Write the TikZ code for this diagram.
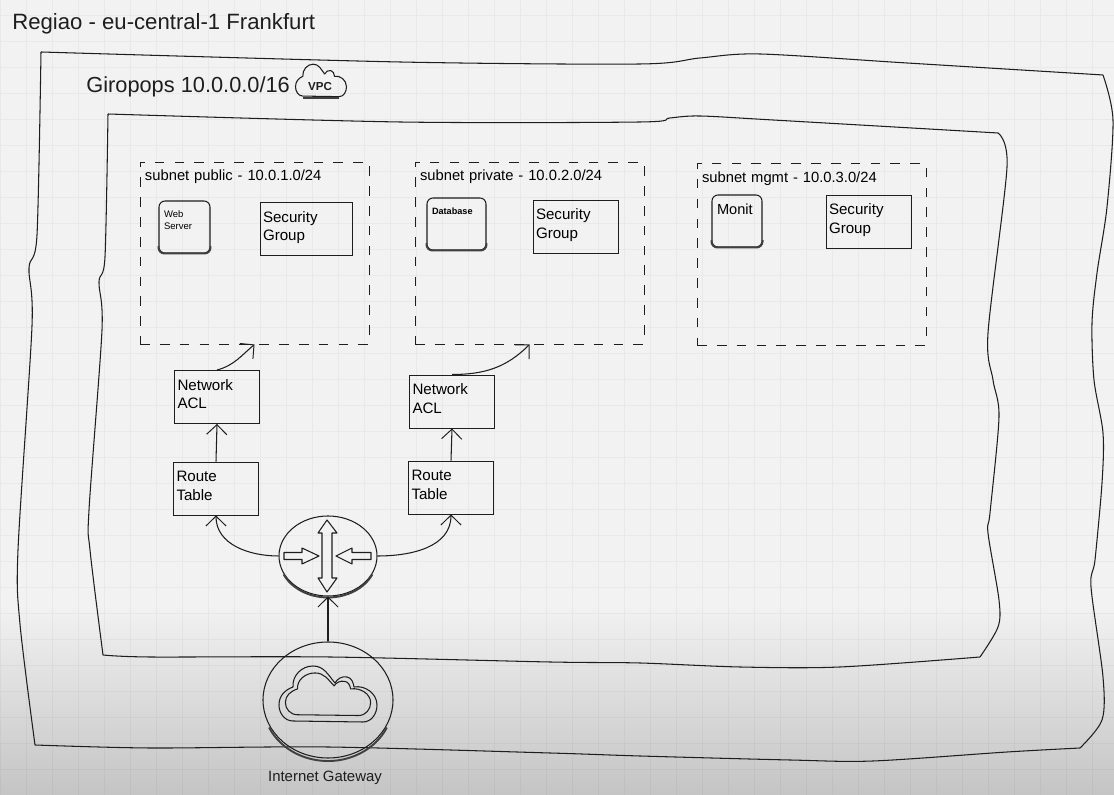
\documentclass[tikz,border=0pt]{standalone}
\usepackage{fontspec}
\setmainfont{Liberation Sans}
\usetikzlibrary{arrows.meta,shapes.geometric}
\definecolor{paper}{HTML}{F2F2F2}
\definecolor{ink}{HTML}{1E1E1E}
\newcommand{\cloudpath}{(-49,-10) to[out=90,in=200] (-35,8) to[out=95,in=180] (-15,29) to[out=0,in=130] (7,12) to[out=60,in=170] (19,18) to[out=-10,in=100] (26,8) to[out=10,in=90] (49,-10) to[out=-90,in=0] (35,-27) -- (-35,-26) to[out=180,in=-90] cycle}
\tikzset{
	wall/.style={draw=ink, line width=0.6pt, line join=round},
	subnetbox/.style={draw=ink, line width=0.55pt, dash pattern=on 5.5pt off 5.8pt, anchor=center, align=left,
		minimum width=45.8mm, text width=43.8mm, inner xsep=1mm, inner ysep=1mm, text height=2.8mm, text depth=31.6mm,
		font=\fontsize{8.4}{10}\selectfont},
	notebox/.style={draw=ink, line width=0.55pt, align=left, inner xsep=0.6mm, inner ysep=0.5mm,
		text width=15.8mm, text height=3.5mm, text depth=6.1mm, font=\fontsize{8.6}{10.3}\selectfont},
	devbox/.style={draw=ink, line width=0.6pt, rounded corners=1.2mm, align=left, inner xsep=1mm, inner ysep=0.5mm,
		text width=8.2mm, text height=2.9mm, text depth=6.5mm, font=\fontsize{5.4}{6.8}\selectfont},
	hub/.style={draw=ink, line width=0.6pt, ellipse, inner sep=0pt},
	botline/.style={draw=ink!85, line width=1.1pt},
	link/.style={draw=ink, line width=0.6pt, -{Straight Barb[length=5.6pt,width=11.5pt,line width=0.55pt]}},
	icon/.style={draw=ink, line width=0.6pt, line join=round}
}
\begin{document}
\begin{tikzpicture}[x=0.2mm,y=0.2mm]
	\useasboundingbox (0,0) rectangle (1114,795);
	% Fond
	\fill[paper] (0,0) rectangle (1114,795);
	\shade[top color=paper, bottom color=black!23] (0,0) rectangle (1114,190);
	\draw[black, opacity=0.035, line width=0.5pt] (0,0) grid[xstep=26,ystep=26] (1114,795);
	% Contours
	\draw[wall] plot[smooth,tension=0.5] coordinates {(41,743) (400,733) (640,731) (700,737) (760,741) (907,732) (1103,720)};
	\draw[wall] plot[smooth,tension=0.5] coordinates {(1103,720) (1113,675) (1107,588) (1097,522) (1092,472) (1094,415) (1103,362) (1102,312) (1095,235) (1091,208) (1103,118) (1102,75) (1080,47)};
	\draw[wall] plot[smooth,tension=0.5] coordinates {(1080,47) (1007,43) (873,34) (790,35) (640,39) (550,42) (328,48) (150,47) (35,50)};
	\draw[wall] plot[smooth,tension=0.5] coordinates {(35,50) (20,171) (18,245) (32,469) (29,527) (37,560) (41,743)};
	\draw[wall] plot[smooth,tension=0.5] coordinates {(108,681) (400,673) (640,673) (670,677) (700,679) (773,675) (998,662)};
	\draw[wall] plot[smooth,tension=0.5] coordinates {(998,662) (1007,628) (988,462) (993,415) (999,378) (990,282) (988,262) (999,195) (998,168) (980,138)};
	\draw[wall] plot[smooth,tension=0.5] coordinates {(980,138) (840,128) (740,128) (640,132) (550,133) (330,138) (150,138) (103,140)};
	\draw[wall] plot[smooth,tension=0.5] coordinates {(103,140) (90,245) (89,285) (102,465) (99,513) (105,538) (108,681)};
	% Titres
	\node[anchor=base west, inner sep=0pt, text=ink, font=\fontsize{12.6}{14}\selectfont] (regiao) at (12,765) {Regiao - eu-central-1 Frankfurt};
	\node[anchor=base west, inner sep=0pt, text=ink, font=\fontsize{12.4}{14}\selectfont] (giropops) at (86,702) {Giropops 10.0.0.0/16};
	\node[inner sep=0pt, text=ink, font=\bfseries\fontsize{6.6}{8}\selectfont] (vpc) at (320,708) {VPC};
	\draw[icon, shift={(321,714)}, xscale=0.52, yscale=0.58] \cloudpath;
	\draw[botline] (303,697) -- (339,697);
	% Subnets
	\node[subnetbox] (subpub) at (254.5,542) {subnet public - 10.0.1.0/24};
	\node[subnetbox] (subpriv) at (529.5,542) {subnet private - 10.0.2.0/24};
	\node[subnetbox] (submgmt) at (811.5,540.5) {subnet mgmt - 10.0.3.0/24};
	% Serveurs
	\node[devbox] (websrv) at (184.5,568) {Web\\Server};
	\node[devbox, text width=9.8mm, font=\bfseries\fontsize{5.2}{6.8}\selectfont] (dbase) at (456.5,571) {Database};
	\node[devbox, text width=8mm, text height=3.5mm, text depth=5.9mm, font=\fontsize{8.3}{10}\selectfont] (monit) at (737,574) {Monit};
	\node[notebox, text width=17.2mm] (sgpub) at (306,566) {Security\\Group};
	\node[notebox] (sgpriv) at (575.5,568.5) {Security\\Group};
	\node[notebox] (sgmgmt) at (868.5,573.5) {Security\\Group};
	\foreach \n in {websrv,dbase,monit}
		\draw[botline, rounded corners=1.2mm] ([yshift=1.5mm]\n.south west) |- (\n.south) -| ([yshift=1.5mm]\n.south east);
	% ACL et tables
	\node[notebox] (aclpub) at (217,398) {Network\\ACL};
	\node[notebox] (aclpriv) at (452,393.5) {Network\\ACL};
	\node[notebox] (rtpub) at (216,306.5) {Route\\Table};
	\node[notebox] (rtpriv) at (451,307.5) {Route\\Table};
	% Routeur et gateway
	\node[hub, minimum width=19.6mm, minimum height=16mm] (router) at (328,239) {};
	\draw[botline] (router.center) ++(205:49 and 40) ++(0,-1.5) arc[start angle=205,end angle=335,x radius=49,y radius=40];
	\draw[icon] (327,275) -- (337,262) -- (332,262) -- (332,217) -- (337,217) -- (327,203) -- (318,217) -- (322,217) -- (322,262) -- (318,262) -- cycle;
	\draw[icon] (284,242.5) -- (302,242.5) -- (302,247) -- (319,239) -- (302,231) -- (302,235.5) -- (284,235.5) -- cycle;
	\draw[icon] (371,242.5) -- (352,242.5) -- (352,247) -- (336,239) -- (352,231) -- (352,235.5) -- (371,235.5) -- cycle;
	\node[hub, minimum width=26mm, minimum height=23.2mm] (igw) at (328,95) {};
	\draw[botline] (igw.center) ++(205:65 and 58) ++(0,-3) arc[start angle=205,end angle=335,x radius=65,y radius=58];
	\foreach \sx/\sy in {1/1,0.87/0.76}
		\draw[icon, shift={(328,100)}, xscale=\sx, yscale=\sy] \cloudpath;
	\node[anchor=base, inner sep=0pt, text=ink, font=\fontsize{8.5}{10}\selectfont] (igwlabel) at (325,13) {Internet Gateway};
	% Fleches
	\draw[link] (igw.north) -- (router.south);
	\draw[link] (router.west) to[out=180,in=-90] (rtpub.south);
	\draw[link] (router.east) to[out=0,in=-90] (rtpriv.south);
	\draw[link] (rtpub.north) -- (aclpub.south);
	\draw[link] (rtpriv.north) -- (aclpriv.south);
	\draw[link] (aclpub.north) to[out=15,in=220] (subpub.south);
	\draw[link] (aclpriv.north) to[out=0,in=225] (subpriv.south);
\end{tikzpicture}
\end{document}
